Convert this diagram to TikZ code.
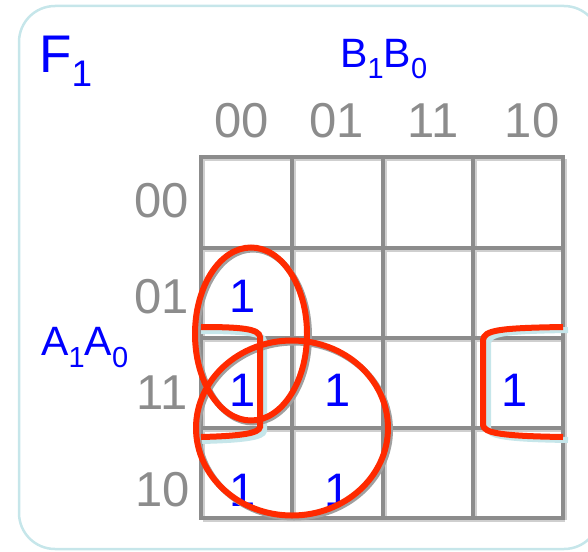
\documentclass[tikz,border=0pt]{standalone}
\usepackage{fontspec}
\setmainfont{Liberation Sans}
\definecolor{kgray}{HTML}{8C8C8C}
\definecolor{kblue}{HTML}{0000FF}
\definecolor{kred}{HTML}{FF2A00}
\definecolor{kcyan}{HTML}{C6E6EA}
\definecolor{kshadow}{HTML}{A0A0A0}
\begin{document}
\begin{tikzpicture}[x=1pt,y=-1pt,
  gridline/.style={draw=kgray,line width=3.5pt},
  gridshadow/.style={draw=kshadow!50,line width=3pt},
  lbl/.style={text=kgray,inner sep=0pt,font=\fontsize{49}{49}\selectfont},
  one/.style={text=kblue,inner sep=0pt,font=\fontsize{47}{47}\selectfont},
  vname/.style={text=kblue,inner sep=0pt,anchor=base west},
  loop/.style={draw=kred,line width=6pt},
  loopshadow/.style={draw=kshadow,line width=6pt},
  brshadow/.style={draw=kcyan,line width=6pt}]
\useasboundingbox (0,0) rectangle (588,551);
\draw[draw=kcyan,line width=2.5pt,rounded corners=36pt] (19,6) rectangle (600,549);
% grid shadow
\foreach \y in {157,248,338,428,518} \draw[gridshadow] (203,\y+2) -- (565,\y+2);
\foreach \x in {201,292,383,473,563} \draw[gridshadow] (\x+2,159) -- (\x+2,520);
% grid
\foreach \y in {157,248,338,428,518} \draw[gridline] (199.25,\y) -- (564.75,\y);
\foreach \x in {201,292,383,473,563} \draw[gridline] (\x,155.25) -- (\x,519.75);
% title and variable names
\node[vname,font=\fontsize{53}{53}\selectfont] (f) at (39,72) {F\raisebox{-14pt}{\fontsize{37}{37}\selectfont 1}};
\node[vname,font=\fontsize{41}{41}\selectfont] (b) at (340,67) {B\raisebox{-11pt}{\fontsize{29}{29}\selectfont 1}B\raisebox{-11pt}{\fontsize{29}{29}\selectfont 0}};
\node[vname,font=\fontsize{41}{41}\selectfont] (a) at (41,355) {A\raisebox{-12pt}{\fontsize{29}{29}\selectfont 1}A\raisebox{-12pt}{\fontsize{29}{29}\selectfont 0}};
% column labels
\node[lbl] (c0) at (242,121) {00};
\node[lbl] (c1) at (337,121) {01};
\node[lbl] (c2) at (433,121) {11};
\node[lbl] (c3) at (532,121) {10};
% row labels
\node[lbl] (r0) at (162,201) {00};
\node[lbl] (r1) at (162,297) {01};
\node[lbl] (r2) at (162,393) {11};
\node[lbl] (r3) at (163,490) {10};
% ones
\node[one] (m4) at (243,296) {1};
\node[one] (m12) at (243,390) {1};
\node[one] (m13) at (338,390) {1};
\node[one] (m14) at (515,390) {1};
\node[one] (m8) at (243,490) {1};
\node[one] (m9) at (338,490) {1};
% bracket shadows
\draw[brshadow] (201,331) .. controls (245,331) and (263,333) .. (264,341) -- (264,431) .. controls (263,437) and (245,440) .. (201,441);
\draw[brshadow] (568,330) .. controls (505,331) and (489,333) .. (488,343) -- (488,428) .. controls (489,436) and (505,439) .. (568,440);
% loop shadows
\draw[loopshadow] (253,336) ellipse [x radius=56,y radius=86.5];
\draw[loopshadow] (294,430) ellipse [x radius=96,y radius=87.5];
% loops
\draw[loop] (251,334) ellipse [x radius=56,y radius=86.5];
\draw[loop] (292,428) ellipse [x radius=96,y radius=87.5];
\draw[loop] (201,327) .. controls (243,327) and (259,329) .. (260,337) -- (260,427) .. controls (259,433) and (243,436) .. (201,437);
\draw[loop] (563,327) .. controls (500,328) and (484,330) .. (483,340) -- (483,425) .. controls (484,433) and (500,436) .. (563,437);
\end{tikzpicture}
\end{document}
